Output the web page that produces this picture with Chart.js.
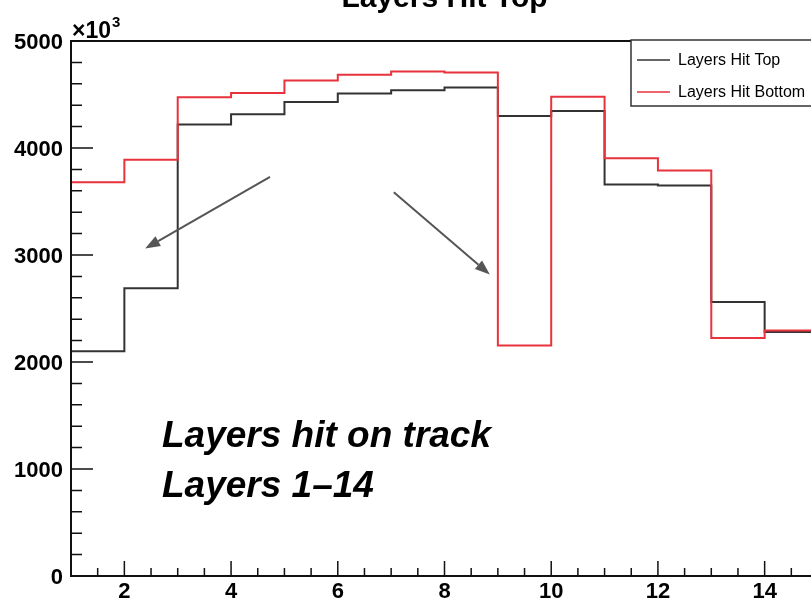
<!DOCTYPE html>
<html>
<head>
<meta charset="utf-8">
<script src="https://cdn.jsdelivr.net/npm/chart.js@4/dist/chart.umd.min.js"></script>
<style>
  html, body { margin: 0; padding: 0; background: #fff; overflow: hidden; width: 811px; height: 602px; }
  canvas { display: block; }
</style>
</head>
<body>
<canvas id="c" width="830" height="602"></canvas>
<script>
// Layer number (lower bin edge) and hit counts in thousands
const layers = [1, 2, 3, 4, 5, 6, 7, 8, 9, 10, 11, 12, 13, 14];
const hitsTop = [2100, 2690, 4220, 4315, 4430, 4510, 4540, 4565, 4300, 4345, 3660, 3650, 2560, 2280];
const hitsBottom = [3680, 3890, 4475, 4515, 4630, 4685, 4715, 4705, 2155, 4478, 3905, 3790, 2225, 2295];
const seriesNames = ['Layers Hit Top', 'Layers Hit Bottom'];
const xTickLabels = [2, 4, 6, 8, 10, 12, 14];
const yTickLabels = [0, 1000, 2000, 3000, 4000, 5000];
const chartTitle = 'Layers Hit Top';
const noteLines = ['Layers hit on track', 'Layers 1\u201314'];
// Arrow annotations in data coordinates: [fromX, fromY, toX, toY]
const arrows = [
  [4.73, 3730, 2.39, 3060],
  [7.05, 3586, 8.85, 2818]
];

const FONT = '"Liberation Sans", Arial, Helvetica, sans-serif';
const COLOR_TOP = '#333333';
const COLOR_BOTTOM = '#e8333c';

// Histogram outline: one point per bin edge, closing at the last upper edge
function histPoints(values) {
  const pts = layers.map((l, i) => ({ x: l, y: values[i] }));
  pts.push({ x: layers[layers.length - 1] + 1, y: values[values.length - 1] });
  return pts;
}

const decorations = {
  id: 'decorations',
  afterDraw(chart) {
    const ctx = chart.ctx;
    const xs = chart.scales.x, ys = chart.scales.y;
    const a = chart.chartArea;
    ctx.save();

    // frame
    ctx.strokeStyle = '#111';
    ctx.lineWidth = 2;
    ctx.strokeRect(a.left, a.top, a.right - a.left, a.bottom - a.top);

    // x ticks (inward)
    ctx.lineWidth = 1.5;
    ctx.beginPath();
    for (let v = xs.min; v <= xs.max + 1e-9; v += 0.5) {
      const px = xs.getPixelForValue(v);
      const major = xTickLabels.includes(v);
      ctx.moveTo(px, a.bottom);
      ctx.lineTo(px, a.bottom - (major ? 15 : 8));
    }
    // y ticks (inward)
    for (let v = ys.min; v <= ys.max + 1e-9; v += 200) {
      const py = ys.getPixelForValue(v);
      const major = yTickLabels.includes(v);
      ctx.moveTo(a.left, py);
      ctx.lineTo(a.left + (major ? 22 : 11), py);
    }
    ctx.stroke();

    // tick labels
    ctx.fillStyle = '#000';
    ctx.font = 'bold 22px ' + FONT;
    ctx.textBaseline = 'alphabetic';
    ctx.textAlign = 'center';
    xTickLabels.forEach(v => {
      ctx.fillText(String(v), xs.getPixelForValue(v), 598);
    });
    ctx.textAlign = 'right';
    yTickLabels.forEach(v => {
      ctx.fillText(String(v), a.left - 8, ys.getPixelForValue(v) + 8);
    });

    // exponent marker
    ctx.textAlign = 'left';
    ctx.font = 'bold 23px ' + FONT;
    ctx.fillText('\u00d710', a.left + 1, 38);
    const w = ctx.measureText('\u00d710').width;
    ctx.font = 'bold 15px ' + FONT;
    ctx.fillText('3', a.left + 1 + w + 1, 27);

    // title
    ctx.font = 'bold 30px ' + FONT;
    ctx.textAlign = 'center';
    ctx.fillText(chartTitle, (a.left + a.right) / 2, 7);

    // arrows
    ctx.strokeStyle = '#555';
    ctx.fillStyle = '#555';
    ctx.lineWidth = 2;
    arrows.forEach(([x0, y0, x1, y1]) => {
      const p0x = xs.getPixelForValue(x0), p0y = ys.getPixelForValue(y0);
      const p1x = xs.getPixelForValue(x1), p1y = ys.getPixelForValue(y1);
      const ang = Math.atan2(p1y - p0y, p1x - p0x);
      const L = 15, H = 5.5;
      const bx = p1x - L * Math.cos(ang), by = p1y - L * Math.sin(ang);
      ctx.beginPath();
      ctx.moveTo(p0x, p0y);
      ctx.lineTo(bx, by);
      ctx.stroke();
      ctx.beginPath();
      ctx.moveTo(p1x, p1y);
      ctx.lineTo(bx + H * Math.sin(ang), by - H * Math.cos(ang));
      ctx.lineTo(bx - H * Math.sin(ang), by + H * Math.cos(ang));
      ctx.closePath();
      ctx.fill();
    });

    // note text
    ctx.fillStyle = '#000';
    ctx.font = 'italic bold 37px ' + FONT;
    ctx.textAlign = 'left';
    ctx.fillText(noteLines[0], 162, 447);
    ctx.fillText(noteLines[1], 162, 497);

    // legend
    const lx = 631, ly = 40, lw = 220, lh = 66;
    ctx.fillStyle = '#fff';
    ctx.fillRect(lx, ly, lw, lh);
    ctx.strokeStyle = '#333';
    ctx.lineWidth = 1.5;
    ctx.strokeRect(lx, ly, lw, lh);
    const entries = [[seriesNames[0], COLOR_TOP, 60], [seriesNames[1], COLOR_BOTTOM, 92]];
    ctx.font = '16px ' + FONT;
    ctx.textBaseline = 'middle';
    entries.forEach(([label, col, y]) => {
      ctx.strokeStyle = col;
      ctx.lineWidth = 1.5;
      ctx.beginPath();
      ctx.moveTo(637, y);
      ctx.lineTo(670, y);
      ctx.stroke();
      ctx.fillStyle = '#000';
      ctx.fillText(label, 678, y + 1);
    });

    ctx.restore();
  }
};

new Chart(document.getElementById('c'), {
  type: 'line',
  data: {
    datasets: [
      {
        label: seriesNames[0],
        data: histPoints(hitsTop),
        borderColor: COLOR_TOP,
        borderWidth: 2,
        stepped: 'before',
        pointRadius: 0,
        fill: false,
        order: 1
      },
      {
        label: seriesNames[1],
        data: histPoints(hitsBottom),
        borderColor: COLOR_BOTTOM,
        borderWidth: 2,
        stepped: 'before',
        pointRadius: 0,
        fill: false,
        order: 0
      }
    ]
  },
  options: {
    responsive: false,
    animation: false,
    events: [],
    layout: { padding: { left: 71, top: 41, right: 12, bottom: 26 } },
    plugins: {
      legend: { display: false },
      title: { display: false },
      tooltip: { enabled: false }
    },
    scales: {
      x: { type: 'linear', min: 1, max: 15, display: false },
      y: { type: 'linear', min: 0, max: 5000, display: false }
    }
  },
  plugins: [decorations]
});
</script>
</body>
</html>
